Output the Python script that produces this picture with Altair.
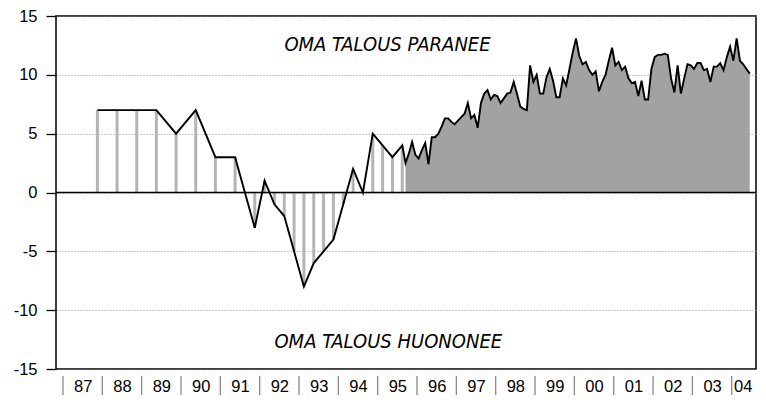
import altair as alt
import pandas as pd

# ---- data ----
early_dates = ["1987-11", "1988-05", "1988-11", "1989-05", "1989-11", "1990-05", "1990-11", "1991-05",
               "1991-11", "1992-02", "1992-05", "1992-08", "1992-11", "1993-02", "1993-05", "1993-08",
               "1993-11", "1994-02", "1994-05", "1994-08", "1994-11", "1995-02", "1995-05", "1995-08"]
early_vals = [7, 7, 7, 7, 5, 7, 3, 3,
              -3, 1, -1, -2, -5, -8, -6, -5,
              -4, -1, 2, 0, 5, 4, 3, 4]

monthly_start = (1995, 9)
monthly_vals = [2.5, 3.3, 4.3, 3.2, 2.9, 3.6, 4.2, 2.4, 4.7, 4.7,
                5.0, 5.6, 6.3, 6.3, 6.0, 5.8, 6.1, 6.4, 6.7, 7.6,
                6.3, 6.6, 5.5, 7.6, 8.4, 8.7, 7.9, 8.3, 8.2, 7.6,
                8.0, 8.4, 8.5, 9.4, 8.4, 7.3, 7.1, 7.0, 10.8, 9.4,
                10.0, 8.4, 8.4, 9.8, 10.5, 9.5, 8.1, 8.1, 9.7, 9.1,
                10.5, 11.9, 13.1, 11.6, 10.9, 11.1, 10.4, 10.0, 10.3, 8.6,
                9.4, 10.0, 11.2, 12.3, 10.8, 11.1, 10.4, 10.7, 9.7, 9.3,
                9.4, 8.2, 9.5, 7.9, 7.9, 10.5, 11.5, 11.7, 11.7, 11.8,
                11.7, 9.7, 8.5, 10.8, 8.4, 9.7, 10.9, 10.8, 10.5, 11.0,
                11.0, 10.4, 10.5, 9.4, 10.7, 10.7, 11.0, 10.4, 11.5, 12.4,
                11.2, 13.1, 11.2, 10.9, 10.5, 10.1]

years = list(range(1987, 2005))
year_label_pos = [y + 0.5 for y in years[:-1]] + [2004.28]

annot_text = ["OMA TALOUS PARANEE", "OMA TALOUS HUONONEE"]
annot_t = [1995.25, 1995.27]
annot_v = [12.5, -12.7]

# ---- tables ----
def to_t(s):
    y, m = s.split("-")
    return int(y) + (int(m) - 0.5) / 12

early = pd.DataFrame({"t": [to_t(d) for d in early_dates], "v": early_vals})
y0, m0 = monthly_start
mt = []
for i in range(len(monthly_vals)):
    mm = m0 - 1 + i
    mt.append(y0 + mm // 12 + ((mm % 12) + 0.5) / 12)
monthly = pd.DataFrame({"t": mt, "v": monthly_vals})
allpts = pd.concat([early, monthly]).sort_values("t")
seps = pd.DataFrame({"t": years})
annots = pd.DataFrame({"t": annot_t, "v": annot_v, "txt": annot_text})

FONT = "Liberation Sans Narrow, DejaVu Sans Condensed, sans-serif"
AXFONT = "Liberation Sans, Arial, sans-serif"
W, H = 700, 353

xenc = alt.X("t:Q",
             scale=alt.Scale(domain=[1986.95, 2004.49], nice=False, zero=False),
             axis=alt.Axis(values=year_label_pos,
                           labelExpr="slice(toString(floor(datum.value)), 2)",
                           ticks=False, domain=False, grid=False, title=None,
                           labelFont=AXFONT, labelFontSize=16.5, labelColor="black",
                           labelPadding=9, labelOverlap=False, labelFlush=False))
yenc = alt.Y("v:Q",
             scale=alt.Scale(domain=[-15, 15], nice=False),
             axis=alt.Axis(values=[-15, -10, -5, 0, 5, 10, 15], tickSize=10,
                           labelExpr="toString(datum.value)",
                           tickColor="black", tickWidth=1.3, domain=False, title=None,
                           grid=True, gridDash=[1, 2], gridColor="#8a8a8a", gridWidth=0.9,
                           labelFont=AXFONT, labelFontSize=16.5, labelColor="black",
                           labelPadding=9))

bars = alt.Chart(early).mark_bar(width=3, color="#b4b4b4").encode(x=xenc, y=yenc, y2=alt.datum(0))
area = alt.Chart(monthly).mark_area(color="#a2a2a2", opacity=1).encode(x=xenc, y=yenc, y2=alt.datum(0))
zero = alt.Chart(pd.DataFrame({"v": [0]})).mark_rule(color="black", strokeWidth=1.5).encode(y=yenc)
line = alt.Chart(allpts).mark_line(color="black", strokeWidth=1.9).encode(x=xenc, y=yenc)
sep = alt.Chart(seps).mark_rule(color="#8a8a8a", strokeWidth=1.3).encode(
    x=xenc, y=alt.value(H + 7), y2=alt.value(H + 27))
txt = alt.Chart(annots).mark_text(font=FONT, fontStyle="italic", fontSize=20, color="black",
                                  align="center", baseline="middle").encode(x=xenc, y=yenc, text="txt:N")

chart = alt.layer(bars, area, zero, line, sep, txt).properties(
    width=W, height=H,
    autosize=alt.AutoSizeParams(type="none"),
    padding={"left": 48, "top": 8, "right": 2, "bottom": 26},
).configure_view(stroke="black", strokeWidth=1.5)

chart.save("out.html", embed_options={"renderer": "svg", "actions": False})
